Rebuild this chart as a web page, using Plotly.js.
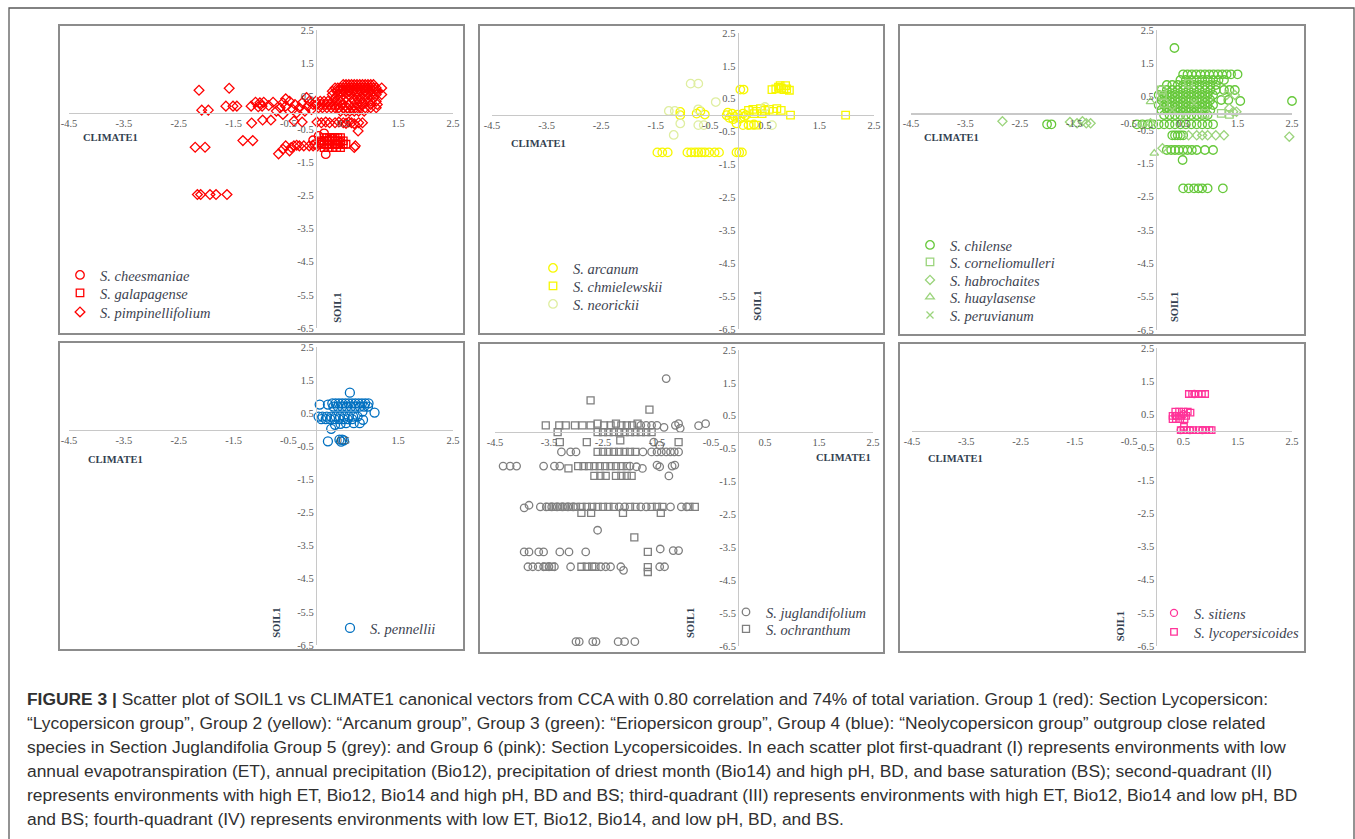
<!DOCTYPE html>
<html>
<head>
<meta charset="utf-8">
<script src="https://cdn.plot.ly/plotly-3.0.1.min.js"></script>
<style>html,body{margin:0;padding:0;background:#fff;}#chart{width:1355px;height:839px;}</style>
</head>
<body>
<div id="chart"></div>
<script>
// ---------- tick labels ----------
const xTickVals = [-4.5,-3.5,-2.5,-1.5,-0.5,0.5,1.5,2.5];
const xTickText = ["-4.5","-3.5","-2.5","-1.5","-0.5","0.5","1.5","2.5"];
const yTickVals = [2.5,1.5,0.5,-0.5,-1.5,-2.5,-3.5,-4.5,-5.5,-6.5];
const yTickText = ["2.5","1.5","0.5","-0.5","-1.5","-2.5","-3.5","-4.5","-5.5","-6.5"];
const xTitle = "CLIMATE1";
const yTitle = "SOIL1";

// ---------- Group 1 (red) ----------
const cheesmaniae = [[-0.05,-0.83],[0.08,-0.9],[0.15,-0.62],[0.22,-0.85],[0.3,-0.78],[0.38,-0.95],[0.18,-1.25],[0.45,-0.9],[0.05,-0.7],[-0.02,-0.95]];
const galapagense = [
 [0.15,-0.75],[0.2,-0.75],[0.25,-0.75],[0.3,-0.75],[0.35,-0.75],[0.4,-0.75],[0.45,-0.75],
 [0.1,-0.85],[0.15,-0.85],[0.2,-0.85],[0.25,-0.85],[0.3,-0.85],[0.35,-0.85],[0.4,-0.85],[0.45,-0.85],[0.5,-0.85],
 [0.1,-0.95],[0.15,-0.95],[0.2,-0.95],[0.25,-0.95],[0.3,-0.95],[0.35,-0.95],[0.4,-0.95],[0.45,-0.95],[0.5,-0.95],[0.55,-0.95],
 [0.15,-1.05],[0.22,-1.05],[0.3,-1.05],[0.38,-1.05],[0.45,-1.05]];
const pimpinellifolium = [
 [-2.13,0.68],[-1.58,0.74],[-2.08,0.08],[-1.96,0.08],[-1.64,0.2],[-1.51,0.2],[-1.44,0.2],
 [-1.18,0.2],[-1.1,0.32],[-1.02,0.3],[-0.95,0.32],[-0.86,0.22],[-0.78,0.32],[-1.05,0.18],[-0.98,0.2],
 [-1.17,-0.31],[-0.97,-0.22],[-0.82,-0.22],[-1.33,-0.84],[-1.15,-0.84],[-2.2,-1.04],[-2.02,-1.04],
 [-2.16,-2.47],[-2.1,-2.47],[-1.93,-2.47],[-1.82,-2.47],[-1.62,-2.47],
 [-0.55,-1.0],[-0.45,-1.05],[-0.4,-1.0],[-0.35,-0.98],[-0.3,-1.0],[-0.22,-1.0],[-0.12,-1.0],[-0.05,-1.0],[0.03,-1.0],[-0.48,-1.15],[-0.68,-1.24],[-0.6,-1.1],
 [-0.72,0.05],[-0.65,0.15],[-0.6,0.3],[-0.55,0.2],[-0.48,0.35],[-0.42,0.1],[-0.38,0.25],[-0.3,0.15],[-0.25,0.3],[-0.2,0.05],[-0.15,0.2],[-0.12,0.35],[-0.08,0.1],[-0.05,0.25],[-0.17,0.46],[-0.6,-0.05],[-0.4,-0.25],[-0.25,-0.28],[-0.35,0.0],[-0.55,0.42],
 [0.02,-0.28],[0.1,-0.3],[0.18,-0.28],[0.25,-0.3],[0.35,-0.3],[0.42,-0.28],[0.5,-0.3],[0.55,-0.32],[0.6,-0.28],[0.65,-0.3],[0.7,-0.33],[0.78,-0.3],[0.85,-0.3],[0.77,-0.55],[0.72,-1.0],[0.7,-1.05],
 [0.5,0.85],[0.55,0.85],[0.6,0.85],[0.65,0.85],[0.7,0.85],[0.75,0.85],[0.8,0.85],[0.85,0.85],[0.9,0.85],[0.95,0.85],[1.0,0.85],[1.05,0.85],
 [0.35,0.75],[0.4,0.75],[0.45,0.75],[0.5,0.75],[0.55,0.75],[0.6,0.75],[0.65,0.75],[0.7,0.75],[0.75,0.75],[0.8,0.75],[0.85,0.75],[0.9,0.75],[0.95,0.75],[1.0,0.75],[1.05,0.75],[1.1,0.75],[1.2,0.75],
 [0.3,0.65],[0.38,0.65],[0.45,0.65],[0.52,0.65],[0.6,0.65],[0.68,0.65],[0.75,0.65],[0.82,0.65],[0.9,0.65],[0.98,0.65],[1.05,0.65],[1.12,0.65],
 [0.3,0.55],[0.4,0.55],[0.5,0.55],[0.6,0.55],[0.7,0.55],[0.8,0.55],[0.9,0.55],[1.0,0.55],[1.1,0.55],[1.2,0.55],
 [0.35,0.45],[0.45,0.45],[0.55,0.45],[0.65,0.45],[0.75,0.45],[0.85,0.45],[0.95,0.45],[1.05,0.45],
 [0.0,0.35],[0.08,0.35],[0.15,0.35],[0.22,0.35],[0.3,0.35],[0.38,0.35],[0.45,0.35],[0.7,0.35],[0.8,0.35],[0.9,0.35],[1.0,0.35],[1.1,0.35],
 [0.02,0.25],[0.1,0.25],[0.18,0.25],[0.25,0.25],[0.32,0.25],[0.4,0.25],[0.48,0.25],[0.6,0.25],[0.75,0.25],[0.85,0.25],[1.0,0.25],[1.12,0.25],
 [0.05,0.15],[0.12,0.15],[0.2,0.15],[0.28,0.15],[0.35,0.15],[0.42,0.15],[0.5,0.15],[0.58,0.15],[0.65,0.15],[0.72,0.15],[0.8,0.15],[0.9,0.15],[1.0,0.15],[1.1,0.15],
 [0.45,0.05],[0.55,0.05],[0.62,0.05],[0.7,0.05],[0.78,0.05],[0.88,0.05]];

// ---------- Group 2 (yellow) ----------
const arcanum = [
 [0.05,0.78],[0.11,0.78],[-1.05,0.0],[-1.05,0.1],[-0.75,0.05],[-0.68,0.12],[-0.6,0.02],[-0.2,0.0],[-0.15,-0.08],[-0.1,0.05],[-0.05,-0.05],[0.0,0.02],[0.05,-0.1],[0.1,0.05],[-0.18,0.08],[-0.08,-0.12],[0.12,-0.05],[0.15,0.0],
 [-1.47,-1.13],[-1.38,-1.13],[-1.28,-1.13],[-0.92,-1.13],[-0.85,-1.13],[-0.78,-1.13],[-0.72,-1.13],[-0.66,-1.13],[-0.6,-1.13],[-0.52,-1.13],[-0.42,-1.13],[-0.34,-1.13],[-0.02,-1.13],[0.03,-1.13],[0.08,-1.13],
 [0.1,-0.3],[0.2,-0.3],[0.3,-0.28],[-0.02,-0.25]];
const chmielewskii = [
 [0.63,0.78],[0.7,0.8],[0.75,0.85],[0.8,0.82],[0.85,0.78],[0.9,0.8],[0.95,0.76],[0.78,0.9],[0.88,0.9],
 [0.2,0.15],[0.28,0.18],[0.35,0.12],[0.42,0.2],[0.5,0.15],[0.58,0.18],[0.65,0.12],[0.72,0.2],[0.8,0.15],[0.3,0.05],[0.45,0.05],[0.97,0.0],[1.98,0.0],[0.25,-0.3],[0.35,-0.3]];
const neorickii = [[-0.86,0.96],[-0.72,0.96],[-1.26,0.13],[-1.15,0.13],[-1.05,-0.25],[-1.17,-0.6],[-0.72,-0.3],[-0.62,-0.3],[-0.72,0.18],[0.63,-0.3],[0.5,0.25],[-0.4,0.4]];

// ---------- Group 3 (green) ----------
const chilense = [
 [0.34,1.96],[2.5,0.37],[1.55,0.37],[1.5,1.17],[0.49,-1.4],[-2.0,-0.33],[-1.92,-0.33],
 [0.5,1.17],[0.58,1.17],[0.66,1.17],[0.74,1.17],[0.82,1.17],[0.9,1.17],[0.98,1.17],[1.06,1.17],[1.14,1.17],[1.22,1.17],[1.3,1.17],[1.38,1.17],
 [0.45,1.0],[0.55,1.0],[0.65,1.0],[0.75,1.0],[0.85,1.0],[0.95,1.0],[1.05,1.0],[1.15,1.0],[1.25,1.0],
 [0.2,0.85],[0.3,0.85],[0.4,0.85],[0.5,0.85],[0.6,0.85],[0.7,0.85],[0.8,0.85],[0.9,0.85],[1.0,0.85],[1.1,0.85],
 [0.1,0.7],[0.2,0.7],[0.3,0.7],[0.4,0.7],[0.5,0.7],[0.6,0.7],[0.7,0.7],[0.8,0.7],[0.9,0.7],[1.0,0.7],[1.1,0.7],[1.25,0.7],[1.35,0.7],[1.45,0.7],
 [0.05,0.55],[0.15,0.55],[0.25,0.55],[0.35,0.55],[0.45,0.55],[0.55,0.55],[0.65,0.55],[0.75,0.55],[0.85,0.55],[0.95,0.55],[1.05,0.55],
 [0.1,0.4],[0.2,0.4],[0.3,0.4],[0.4,0.4],[0.5,0.4],[0.6,0.4],[0.7,0.4],[0.8,0.4],[0.9,0.4],[1.0,0.4],[1.2,0.4],[1.33,0.4],
 [0.05,0.25],[0.15,0.25],[0.25,0.25],[0.35,0.25],[0.45,0.25],[0.55,0.25],[0.65,0.25],[0.75,0.25],[0.85,0.25],[0.95,0.25],[1.05,0.25],
 [0.1,0.1],[0.2,0.1],[0.3,0.1],[0.4,0.1],[0.5,0.1],[0.6,0.1],[0.7,0.1],[0.8,0.1],[0.9,0.1],[1.0,0.1],
 [0.15,-0.05],[0.25,-0.05],[0.35,-0.05],[0.45,-0.05],[0.55,-0.05],[0.65,-0.05],[0.75,-0.05],[0.85,-0.05],[0.95,-0.05],
 [-0.35,-0.33],[-0.25,-0.33],[-0.15,-0.33],[-0.05,-0.33],[0.05,-0.33],[0.15,-0.33],[0.25,-0.33],[0.35,-0.33],[0.45,-0.33],[0.55,-0.33],[0.65,-0.33],[0.75,-0.33],[0.85,-0.33],[0.95,-0.33],[1.05,-0.33],
 [0.3,-0.66],[0.35,-0.66],[0.4,-0.66],[0.45,-0.66],[0.5,-0.66],
 [0.2,-1.1],[0.28,-1.1],[0.35,-1.1],[0.42,-1.1],[0.5,-1.1],[0.58,-1.1],[0.66,-1.1],[0.75,-1.1],[0.9,-1.1],[1.05,-1.1],
 [0.5,-2.25],[0.6,-2.25],[0.7,-2.25],[0.78,-2.25],[0.85,-2.25],[0.95,-2.25],[1.23,-2.25]];
const corneliomulleri = [[0.12,0.54],[0.1,0.7],[1.2,0.0],[0.15,0.3],[0.6,0.9],[0.9,0.0],[1.35,-0.03]];
const habrochaites = [[-2.82,-0.24],[-1.58,-0.26],[-1.45,-0.3],[-1.35,-0.24],[-1.28,-0.3],[-1.2,-0.3],[2.45,-0.7],[0.6,-0.66],[0.75,-0.66],[0.85,-0.66],[0.95,-0.66],[1.1,-0.66],[1.25,-0.66],[0.12,-1.05],[1.42,0.05],[1.48,0.05],[1.3,0.55],[1.45,0.55],[1.35,0.15],[-0.1,-0.3]];
const huaylasense = [[-0.03,-1.2],[-0.25,-0.33],[-0.1,0.35]];
const peruvianum = [[0.3,0.1],[0.5,-0.1],[0.7,0.3]];

// ---------- Group 4 (blue) ----------
const pennellii = [
 [0.62,1.12],[0.07,0.76],[0.22,0.76],
 [0.3,0.8],[0.36,0.8],[0.42,0.8],[0.48,0.8],[0.54,0.8],[0.6,0.8],[0.66,0.8],[0.72,0.8],[0.78,0.8],[0.84,0.8],[0.9,0.8],[0.96,0.8],
 [0.32,0.7],[0.4,0.7],[0.48,0.7],[0.56,0.7],[0.64,0.7],[0.72,0.7],[0.8,0.7],[0.88,0.7],[0.95,0.7],
 [1.07,0.52],[0.85,0.55],
 [0.05,0.4],[0.12,0.4],[0.2,0.4],[0.28,0.4],[0.36,0.4],[0.44,0.4],[0.52,0.4],[0.6,0.4],[0.68,0.4],[0.76,0.4],
 [0.1,0.32],[0.18,0.32],[0.26,0.32],[0.34,0.32],[0.42,0.32],[0.5,0.32],[0.58,0.32],[0.66,0.32],
 [0.86,0.3],[0.28,0.03],[0.35,0.15],[0.45,0.18],[0.55,0.2],[0.69,0.2],[0.8,0.2],
 [0.22,-0.35],[0.43,-0.3],[0.48,-0.3],[0.51,-0.32],[0.46,-0.36]];

// ---------- Group 5 (grey) ----------
const juglandifolium = [
 [-1.33,1.63],
 [-1.8,0.21],[-1.7,0.21],[-1.6,0.21],[-1.5,0.21],[-1.37,0.15],[-1.16,0.21],[-1.07,0.12],[-0.73,0.2],[-0.6,0.26],[-1.1,0.26],
 [-1.56,-0.3],[-1.45,-0.4],
 [-3.27,-0.6],[-3.1,-0.6],[-3.0,-0.6],[-1.76,-0.6],[-1.6,-0.6],[-1.5,-0.6],[-1.42,-0.6],[-1.33,-0.6],[-1.25,-0.6],[-1.18,-0.6],[-1.1,-0.6],
 [-4.35,-1.03],[-4.22,-1.03],[-4.1,-1.03],[-3.6,-1.03],[-3.4,-1.03],[-3.3,-1.03],[-2.0,-1.03],[-1.88,-1.05],[-1.77,-1.1],[-1.5,-1.0],[-1.45,-1.05],[-1.22,-1.03],[-1.17,-1.0],
 [-1.28,-1.33],
 [-3.96,-2.3],[-3.87,-2.22],[-3.66,-2.27],[-3.55,-2.27],[-3.45,-2.27],[-3.35,-2.27],[-3.25,-2.27],[-3.15,-2.27],[-3.05,-2.27],[-2.2,-2.27],[-2.1,-2.27],[-1.8,-2.27],[-1.7,-2.27],[-1.25,-2.27],[-1.05,-2.27],[-0.95,-2.27],
 [-2.6,-2.98],
 [-3.96,-3.64],[-3.87,-3.64],[-3.69,-3.64],[-3.6,-3.64],[-3.3,-3.64],[-3.13,-3.64],[-2.82,-3.64],[-1.44,-3.55],[-1.2,-3.6],[-1.1,-3.6],
 [-3.89,-4.09],[-3.8,-4.09],[-3.7,-4.09],[-3.6,-4.09],[-3.5,-4.09],[-3.4,-4.09],[-3.1,-4.09],[-2.54,-4.09],[-2.45,-4.09],[-2.36,-4.09],[-2.17,-4.09],[-2.12,-4.2],[-1.45,-4.09],[-1.36,-4.09],
 [-3.0,-6.37],[-2.94,-6.37],[-2.69,-6.37],[-2.63,-6.37],[-2.22,-6.37],[-2.1,-6.37],[-1.91,-6.37]];
const ochranthum = [
 [-2.73,0.97],[-1.64,0.69],
 [-3.56,0.21],[-3.31,0.21],[-3.19,0.21],[-3.02,0.21],[-2.88,0.21],[-2.73,0.21],[-2.6,0.26],[-2.48,0.21],[-2.36,0.21],[-2.26,0.26],[-2.16,0.21],[-2.06,0.21],[-1.96,0.21],[-1.86,0.26],
 [-3.34,0.0],[-2.6,0.0],[-2.5,0.0],[-2.4,0.0],[-2.3,0.0],[-2.2,0.0],[-2.1,0.0],[-2.0,0.0],[-1.9,0.0],[-1.8,0.0],[-1.7,0.0],[-1.6,0.0],
 [-3.3,-0.3],[-2.8,-0.3],[-2.18,-0.25],[-1.1,-0.3],
 [-2.6,-0.6],[-2.5,-0.6],[-2.4,-0.6],[-2.3,-0.6],[-2.2,-0.6],[-2.1,-0.6],[-2.0,-0.6],[-1.9,-0.6],
 [-3.14,-1.1],[-2.96,-1.03],[-2.86,-1.03],[-2.76,-1.03],[-2.66,-1.03],[-2.56,-1.03],[-2.46,-1.03],[-2.36,-1.03],[-2.26,-1.03],[-2.16,-1.03],[-2.06,-1.03],
 [-2.66,-1.33],[-2.55,-1.33],[-2.45,-1.33],[-2.26,-1.33],[-2.16,-1.33],[-2.06,-1.33],[-1.97,-1.33],
 [-3.5,-2.27],[-3.4,-2.27],[-3.3,-2.27],[-3.2,-2.27],[-3.1,-2.27],[-3.0,-2.27],[-2.9,-2.27],[-2.8,-2.27],[-2.7,-2.27],[-2.6,-2.27],[-2.5,-2.27],[-2.4,-2.27],[-2.3,-2.27],[-2.0,-2.27],[-1.9,-2.27],[-1.6,-2.27],[-1.5,-2.27],[-1.4,-2.27],[-0.9,-2.27],[-0.8,-2.27],
 [-2.9,-2.45],[-2.72,-2.45],[-2.13,-2.45],[-1.43,-2.45],
 [-1.92,-3.2],[-1.67,-3.64],
 [-3.55,-4.09],[-3.45,-4.09],[-2.9,-4.09],[-2.8,-4.09],[-2.7,-4.09],[-2.64,-4.09],[-1.67,-4.1],[-1.67,-4.25]];

// ---------- Group 6 (pink) ----------
const sitiens = [[0.7,1.11],[0.35,0.45],[0.5,0.5],[0.45,0.02],[0.62,0.02],[0.85,0.02]];
const lycopersicoides = [
 [0.6,1.11],[0.66,1.11],[0.72,1.11],[0.78,1.11],[0.84,1.11],[0.9,1.11],
 [0.35,0.58],[0.42,0.58],[0.5,0.58],[0.58,0.58],[0.63,0.55],[0.3,0.45],[0.38,0.45],[0.46,0.45],[0.55,0.45],[0.3,0.35],[0.36,0.35],[0.44,0.35],[0.52,0.35],[0.51,0.12],
 [0.45,0.02],[0.5,0.02],[0.56,0.02],[0.62,0.02],[0.68,0.02],[0.78,0.02],[0.85,0.02],[0.92,0.02],[0.98,0.02],[1.02,0.02]];

// ---------- caption ----------
const captionLines = [
 "<b>FIGURE 3 |</b> Scatter plot of SOIL1 vs CLIMATE1 canonical vectors from CCA with 0.80 correlation and 74% of total variation. Group 1 (red): Section Lycopersicon:",
 "“Lycopersicon group”, Group 2 (yellow): “Arcanum group”, Group 3 (green): “Eriopersicon group”, Group 4 (blue): “Neolycopersicon group” outgroup close related",
 "species in Section Juglandifolia Group 5 (grey): and Group 6 (pink): Section Lycopersicoides. In each scatter plot first-quadrant (I) represents environments with low",
 "annual evapotranspiration (ET), annual precipitation (Bio12), precipitation of driest month (Bio14) and high pH, BD, and base saturation (BS); second-quadrant (II)",
 "represents environments with high ET, Bio12, Bio14 and high pH, BD and BS; third-quadrant (III) represents environments with high ET, Bio12, Bio14 and low pH, BD",
 "and BS; fourth-quadrant (IV) represents environments with low ET, Bio12, Bio14, and low pH, BD, and BS."
];

// ================= layout building =================
const W = 1355, H = 839;
const PX = v => v / W;
const PY = v => 1 - v / H;

// pixel geometry of each panel: plot area (x0,x1,yTop,yBot) and frame
const panels = [
 {x0:69, x1:453, yt:30,  yb:328, fr:[59,25,464,334],  climate:[-3.75,-0.75], soil:[0.38,-5.9]},
 {x0:492,x1:874, yt:33,  yb:329, fr:[479,25,884,334], climate:[-3.64,-0.87], soil:[0.37,-5.8]},
 {x0:911,x1:1292,yt:30,  yb:330, fr:[899,25,1305,335],climate:[-3.76,-0.72], soil:[0.34,-5.8]},
 {x0:69, x1:453, yt:347, yb:645, fr:[59,342,464,650], climate:[-3.66,-0.9],  soil:[-0.71,-5.83]},
 {x0:495,x1:873, yt:350, yb:646, fr:[479,343,884,653],climate:[1.96,-0.76],  soil:[-0.87,-5.8]},
 {x0:912,x1:1292,yt:348, yb:646, fr:[899,343,1305,652],climate:[-3.7,-0.83], soil:[-0.66,-5.89]}
];

const serif = '"Liberation Serif", "Times New Roman", serif';
const tickFont = {family: serif, size:10.5, color:'#595959'};
const layout = {
  width: W, height: H,
  margin: {l:0, r:0, t:0, b:0},
  paper_bgcolor: '#ffffff',
  plot_bgcolor: 'rgba(0,0,0,0)',
  showlegend: true,
  shapes: [],
  annotations: []
};

panels.forEach((p, i) => {
  const n = i === 0 ? '' : String(i + 1);
  const xd = [PX(p.x0), PX(p.x1)];
  const yd = [PY(p.yb), PY(p.yt)];
  const xPos = xd[0] + (4.5 / 7) * (xd[1] - xd[0]);
  const yPos = yd[0] + (6.5 / 9) * (yd[1] - yd[0]);
  layout['xaxis' + n] = {
    domain: xd, range: [-4.5, 2.5], anchor: 'free', position: yPos,
    showgrid: false, zeroline: false, showline: true, linecolor: '#c8c8c8', linewidth: 1.2,
    tickmode: 'array', tickvals: xTickVals, ticktext: xTickText, ticks: '',
    tickfont: tickFont, fixedrange: true
  };
  layout['yaxis' + n] = {
    domain: yd, range: [-6.5, 2.5], anchor: 'free', position: xPos,
    showgrid: false, zeroline: false, showline: true, linecolor: '#c8c8c8', linewidth: 1.2,
    tickmode: 'array', tickvals: yTickVals, ticktext: yTickText, ticks: '',
    tickfont: tickFont, fixedrange: true
  };
  layout.shapes.push({type:'rect', xref:'paper', yref:'paper',
    x0: PX(p.fr[0]), x1: PX(p.fr[2]), y0: PY(p.fr[3]), y1: PY(p.fr[1]),
    line: {color:'#8c8c8c', width:2}, fillcolor:'rgba(0,0,0,0)', layer:'below'});
  layout.annotations.push({xref:'x' + n, yref:'y' + n, x: p.climate[0], y: p.climate[1],
    text: '<b>' + xTitle + '</b>', showarrow:false,
    font:{family: serif, size:10.5, color:'#333f50'}});
  layout.annotations.push({xref:'x' + n, yref:'y' + n, x: p.soil[0], y: p.soil[1],
    text: '<b>' + yTitle + '</b>', showarrow:false, textangle:-90,
    font:{family: serif, size:10.5, color:'#333f50'}});
});

// outer frame
layout.shapes.push({type:'rect', xref:'paper', yref:'paper',
  x0: PX(9), x1: PX(1354), y0: -0.05, y1: PY(8),
  line:{color:'#5a5a5a', width:1.3}, fillcolor:'rgba(0,0,0,0)', layer:'below'});

// caption
captionLines.forEach((t, k) => {
  layout.annotations.push({xref:'paper', yref:'paper', x: PX(25), y: PY(699 + 24 * k),
    xanchor:'left', yanchor:'middle', align:'left', showarrow:false, text: t,
    font:{family:'"Liberation Sans", Arial, sans-serif', size:17.4, color:'#303030'}});
});

// ================= traces =================
// one legend per entry, placed at (text start x, centre y) in pixels
let legendCount = 0;
function mk(pts, name, symbol, color, size, panelIndex, legPos) {
  const n = panelIndex === 0 ? '' : String(panelIndex + 1);
  legendCount += 1;
  const lid = legendCount === 1 ? 'legend' : 'legend' + legendCount;
  layout[lid] = {
    x: PX(legPos[0] - 40), y: PY(legPos[1]), xanchor: 'left', yanchor: 'middle',
    bgcolor: 'rgba(0,0,0,0)', borderwidth: 0, itemwidth: 30,
    font: {family: serif, size: 14.5, style: 'italic', color: '#3d4350'}
  };
  return {
    type: 'scatter', mode: 'markers', name: name,
    x: pts.map(p => p[0]), y: pts.map(p => p[1]),
    xaxis: 'x' + n, yaxis: 'y' + n, legend: lid,
    cliponaxis: false,
    marker: {symbol: symbol, size: size, color: color, line: {color: color, width: 1.3}}
  };
}
const RED = '#ff0000', YEL = '#f7f700', YEL2 = '#dfeea0', GRN = '#66c83a', GRN2 = '#9bd47c', BLU = '#0070c0', GRY = '#7f7f7f', PNK = '#ff3399';
const data = [
  mk(cheesmaniae, 'S. cheesmaniae', 'circle-open', RED, 8.5, 0, [100, 275]),
  mk(galapagense, 'S. galapagense', 'square-open', RED, 7.5, 0, [100, 293]),
  mk(pimpinellifolium, 'S. pimpinellifolium', 'diamond-open', RED, 7.5, 0, [100, 312]),
  mk(arcanum, 'S. arcanum', 'circle-open', YEL, 8.5, 1, [573, 268]),
  mk(chmielewskii, 'S. chmielewskii', 'square-open', YEL, 7.5, 1, [573, 286]),
  mk(neorickii, 'S. neorickii', 'circle-open', YEL2, 8.5, 1, [573, 304]),
  mk(chilense, 'S. chilense', 'circle-open', GRN, 8.5, 2, [950, 245]),
  mk(corneliomulleri, 'S. corneliomulleri', 'square-open', GRN2, 7.5, 2, [950, 262]),
  mk(habrochaites, 'S. habrochaites', 'diamond-open', GRN2, 7, 2, [950, 280]),
  mk(huaylasense, 'S. huaylasense', 'triangle-up-open', GRN2, 7.5, 2, [950, 297]),
  mk(peruvianum, 'S. peruvianum', 'x-thin-open', GRN2, 7, 2, [950, 315]),
  mk(pennellii, 'S. pennellii', 'circle-open', BLU, 9, 3, [370, 628]),
  mk(juglandifolium, 'S. juglandifolium', 'circle-open', GRY, 7.5, 4, [766, 612]),
  mk(ochranthum, 'S. ochranthum', 'square-open', GRY, 7, 4, [766, 629]),
  mk(sitiens, 'S. sitiens', 'circle-open', PNK, 7, 5, [1194, 613]),
  mk(lycopersicoides, 'S. lycopersicoides', 'square-open', PNK, 6.5, 5, [1194, 632])
];

Plotly.newPlot('chart', data, layout, {displayModeBar:false, staticPlot:true});
</script>
</body>
</html>
